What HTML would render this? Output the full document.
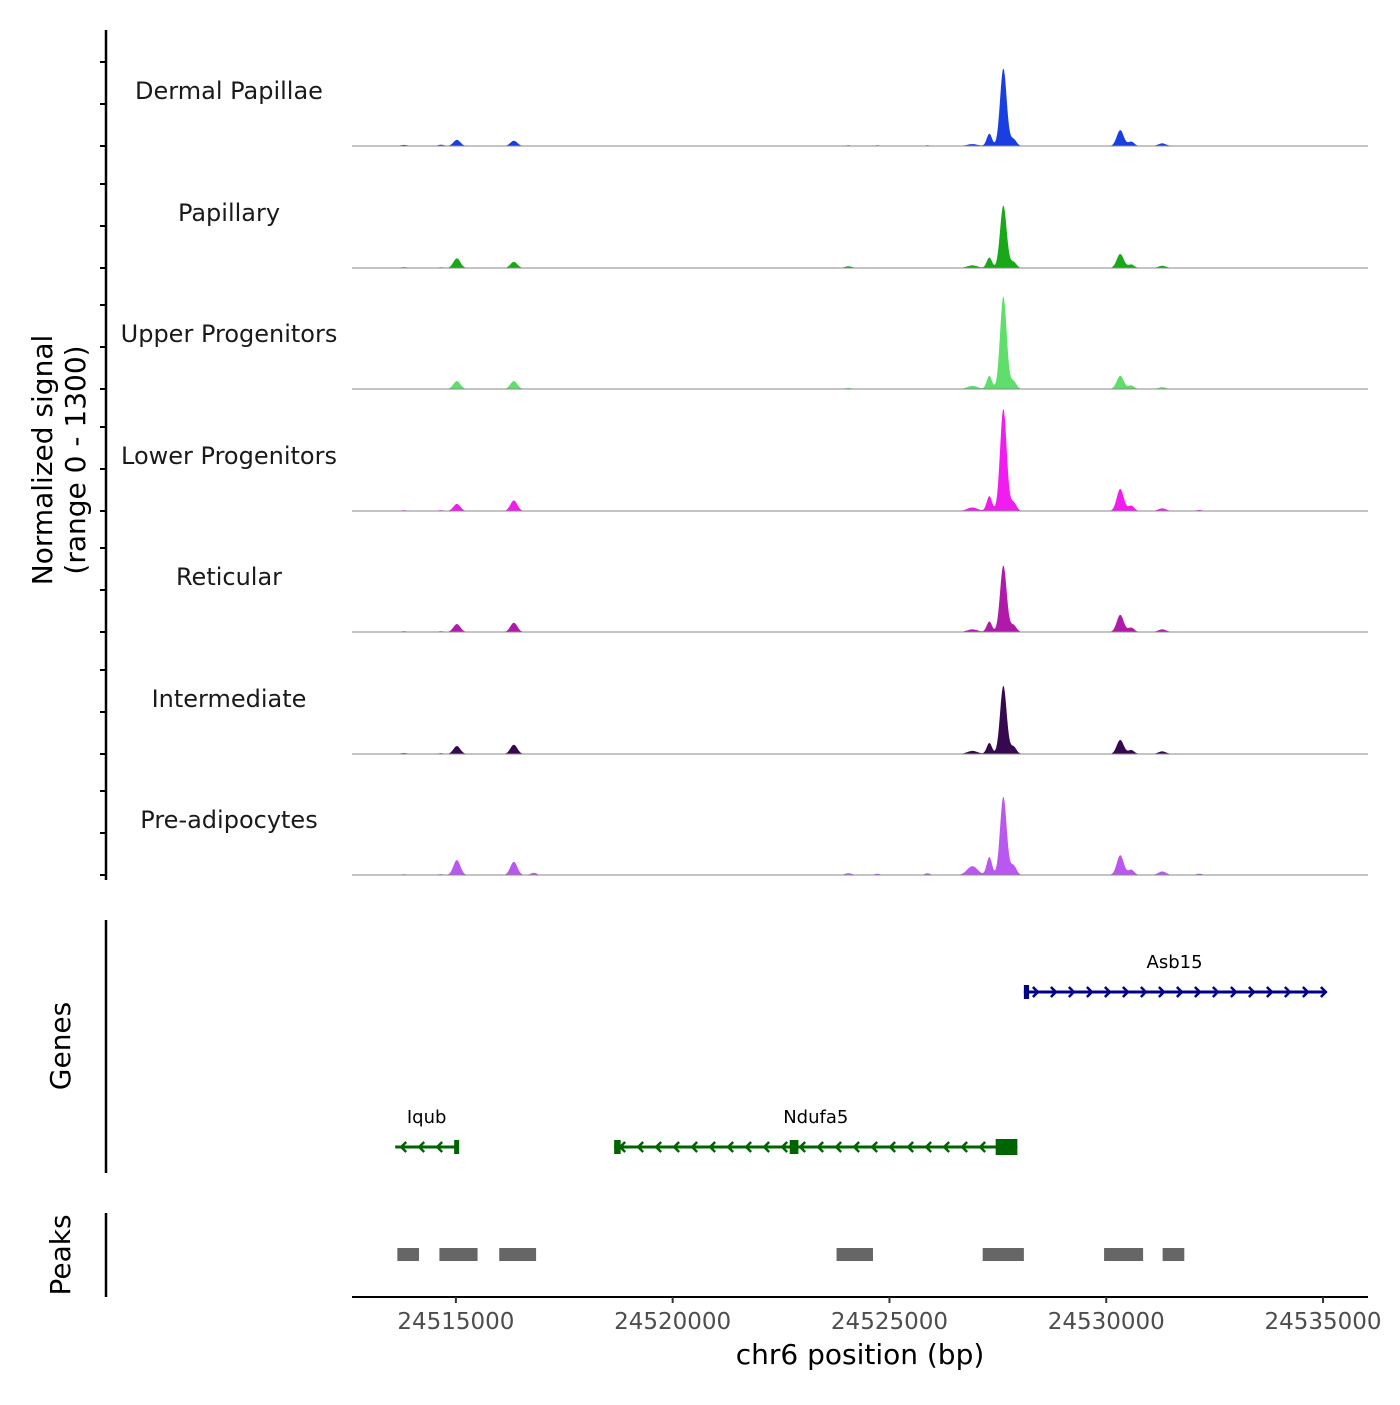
<!DOCTYPE html>
<html><head><meta charset="utf-8"><style>
body{margin:0;background:#fff}
svg text{font-family:"DejaVu Sans","Liberation Sans",sans-serif}
</style></head><body>
<svg id="chart" width="1400" height="1400" viewBox="0 0 1400 1400">
<g id="tracks"></g>
<g id="left">
<line x1="106" y1="30" x2="106" y2="880" stroke="#000" stroke-width="2.5"/>
<line x1="106" y1="920" x2="106" y2="1173" stroke="#000" stroke-width="2.5"/>
<line x1="106" y1="1213" x2="106" y2="1297" stroke="#000" stroke-width="2.5"/>
<text transform="translate(52,460) rotate(-90)" text-anchor="middle" font-size="28"><tspan x="0" dy="0">Normalized signal</tspan><tspan x="0" dy="33">(range 0 - 1300)</tspan></text>
<text transform="translate(70,1046) rotate(-90)" text-anchor="middle" font-size="28">Genes</text>
<text transform="translate(70,1255) rotate(-90)" text-anchor="middle" font-size="28">Peaks</text>
</g>
<g id="genes"></g>
<g id="peaks"></g>
<g id="xaxis">
<line x1="352" y1="1297" x2="1368" y2="1297" stroke="#000" stroke-width="2"/>
<text x="860" y="1364" text-anchor="middle" font-size="28">chr6 position (bp)</text>
</g>
</svg>
<script>
const NS="http://www.w3.org/2000/svg";
const trackNames=["Dermal Papillae","Papillary","Upper Progenitors","Lower Progenitors","Reticular","Intermediate","Pre-adipocytes"];
const trackColors=["#1a3fe0","#18a818","#5ede6a","#f01cf0","#b01aa8","#36084f","#b858f0"];
const peakPositions=[24513802,24514655,24515023,24516337,24516797,24524055,24524723,24525876,24526913,24527304,24527627,24527857,24530323,24530576,24531290,24532143];
const peakWidths=[80,70,80,80,70,80,60,60,120,60,75,70,80,70,90,70];
const sigDermal=[12,15,70,60,4,8,8,8,22,140,880,80,180,50,30,6];
const sigPapillary=[10,8,110,70,4,20,5,5,30,120,710,70,160,40,25,5];
const sigUpper=[4,6,90,90,3,12,3,3,35,150,1050,90,150,40,20,4];
const sigLower=[8,10,80,120,6,6,6,6,40,170,1160,100,250,60,30,12];
const sigReticular=[8,8,90,105,4,6,4,4,30,120,755,80,195,50,30,4];
const sigIntermediate=[10,8,90,105,4,6,4,4,35,125,775,85,160,45,30,4];
const sigPreadipo=[8,10,170,150,25,20,15,20,100,205,890,110,225,60,40,15];
const series=[sigDermal,sigPapillary,sigUpper,sigLower,sigReticular,sigIntermediate,sigPreadipo];
const xTicks=[24515000,24520000,24525000,24530000,24535000];
const geneNames=["Asb15","Iqub","Ndufa5"];
const geneStarts=[24528100,24513600,24518650];
const geneEnds=[24535050,24515050,24527950];
const geneStrands=["+","-","-"];
const peakStarts=[24513650,24514620,24516000,24523780,24527150,24529950,24531300];
const peakEnds=[24514150,24515500,24516850,24524620,24528100,24530850,24531800];
const maxSignal=1300;
const X0=352,X1=1368,BP0=24512604,BP1=24536037;
const xs=bp=>X0+(bp-BP0)/(BP1-BP0)*(X1-X0);
const baselines=[146,268,389,511,632,754,875];
const trackH=115;
const ys=(v,b)=>b-v/maxSignal*trackH;
function mk(tag,attrs,parent){const e=document.createElementNS(NS,tag);for(const k in attrs)e.setAttribute(k,attrs[k]);parent.appendChild(e);return e;}
const tracks=document.getElementById('tracks');
const left=document.getElementById('left');
series.forEach((vals,i)=>{
  const b=baselines[i];
  const g=mk('g',{},tracks);
  
  
  let d=`M${X0},${b}`;
  for(let px=X0;px<=X1;px+=1){
    const bp=BP0+(px-X0)/(X1-X0)*(BP1-BP0);
    let v=0;
    peakPositions.forEach((p,j)=>{const s=peakWidths[j];v+=vals[j]*Math.exp(-((bp-p)*(bp-p))/(2*s*s));});
    d+=`L${px},${ys(v,b).toFixed(1)}`;
  }
  d+=`L${X1},${b}Z`;
  const a=mk('path',{d:d,fill:trackColors[i]},g);
  
  
  const l=mk('line',{x1:X0,y1:b,x2:X1,y2:b,stroke:'#888','stroke-width':1},g);
  
  
  const t=mk('text',{x:229,y:b-47,'text-anchor':'middle','font-size':24,fill:'#1a1a1a'},g);
  t.textContent=trackNames[i];
  
  
  [0,42,84].forEach(o=>{
    const tk=mk('line',{x1:100,y1:b-o,x2:106,y2:b-o,stroke:'#000','stroke-width':2},left);
    
    
  });
});
const genes=document.getElementById('genes');
const geneY=[992,1147,1147],geneCol=["#00008b","#006400","#006400"];
const exons=[[[24528100,24528220]],[[24514960,24515050]],[[24518650,24518800],[24522700,24522900],[24527450,24527950]]];
geneNames.forEach((n,i)=>{
  const g=mk('g',{},genes);
  
  
  const y=geneY[i],c=geneCol[i],x1=xs(geneStarts[i]),x2=xs(geneEnds[i]);
  mk('line',{x1:x1,y1:y,x2:x2,y2:y,stroke:c,'stroke-width':3},g);
  const step=18,dir=geneStrands[i]=='+'?1:-1;
  for(let x=x1+10;x<x2-2;x+=step){
    const ax=dir>0?x+4:x-4;
    mk('polyline',{points:`${ax-5*dir},${y-5} ${ax},${y} ${ax-5*dir},${y+5}`,fill:'none',stroke:c,'stroke-width':2.5},g);
  }
  exons[i].forEach(e=>{
    const ex1=xs(e[0]),ex2=xs(e[1]);const h=(e[1]-e[0]>300)?16:14;
    mk('rect',{x:ex1,y:y-h/2,width:Math.max(ex2-ex1,5),height:h,fill:c},g);
  });
  const t=mk('text',{x:(x1+x2)/2,y:y-24,'text-anchor':'middle','font-size':18,fill:'#000'},g);
  t.textContent=n;
  
  
});
const peaks=document.getElementById('peaks');
peakStarts.forEach((s,i)=>{
  const r=mk('rect',{x:xs(s),y:1248,width:xs(peakEnds[i])-xs(s),height:13,fill:'#666'},peaks);
  
  
});
const xa=document.getElementById('xaxis');
xTicks.forEach(v=>{
  const x=xs(v);
  const tk=mk('line',{x1:x,y1:1297,x2:x,y2:1303,stroke:'#333','stroke-width':2},xa);
  
  
  const t=mk('text',{x:x,y:1329,'text-anchor':'middle','font-size':23,fill:'#4d4d4d'},xa);
  t.textContent=v;
  
  
});
</script>
</body></html>
